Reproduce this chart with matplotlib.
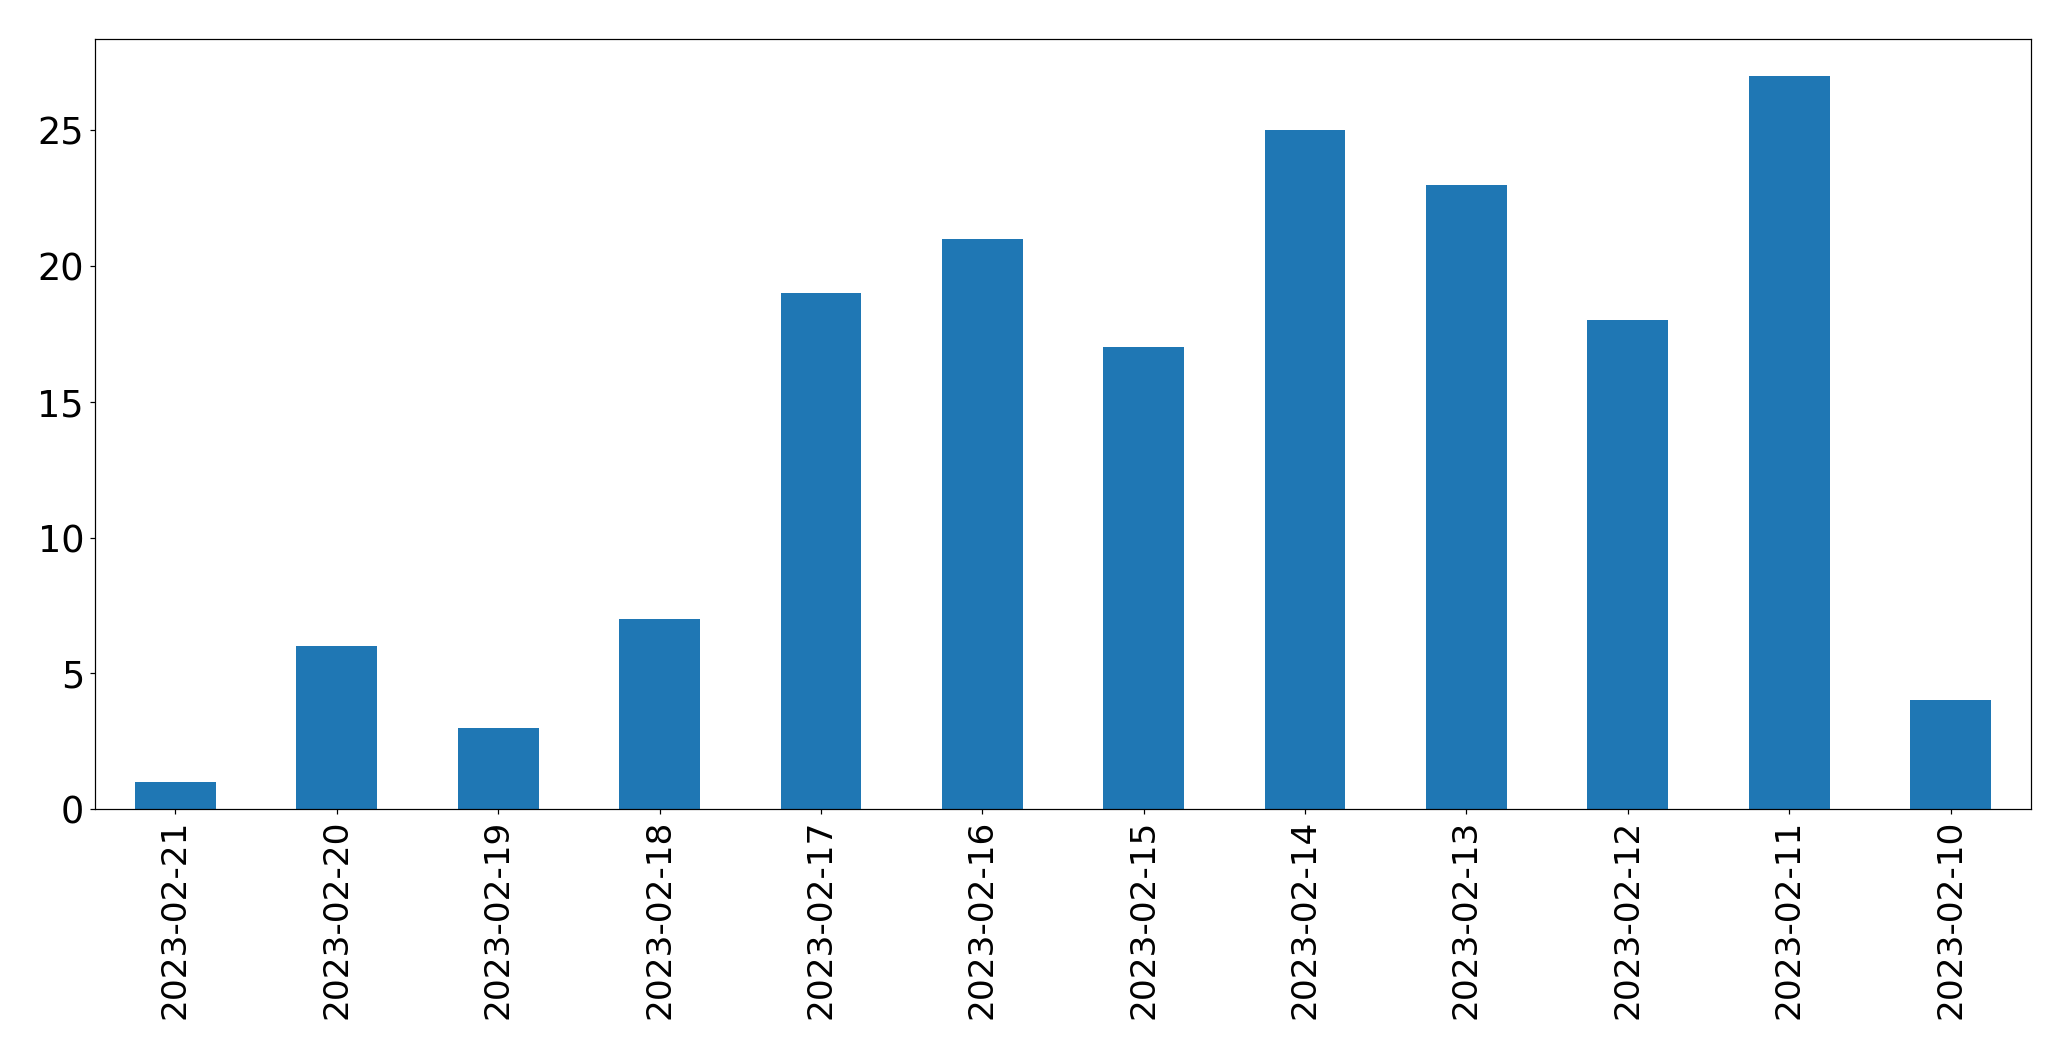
import matplotlib
matplotlib.use("Agg")
import matplotlib.pyplot as plt

dates = ["2023-02-21", "2023-02-20", "2023-02-19", "2023-02-18", "2023-02-17",
         "2023-02-16", "2023-02-15", "2023-02-14", "2023-02-13", "2023-02-12",
         "2023-02-11", "2023-02-10"]
counts = [1, 6, 3, 7, 19, 21, 17, 25, 23, 18, 27, 4]

DPI = 110
fig = plt.figure(figsize=(2071 / DPI, 1061 / DPI), dpi=DPI)
ax = fig.add_axes([94.7 / 2071, 1 - 809 / 1061, (2031.3 - 94.7) / 2071, (809 - 39.3) / 1061])

x = list(range(len(dates)))
ax.bar(x, counts, width=0.5, color="#1f77b4")
ax.set_xlim(-0.5, len(dates) - 0.5)
ax.set_ylim(0, max(counts) * 1.05)
ax.set_xticks(x)
ax.set_xticklabels(dates, rotation=90)
ax.tick_params(axis="y", labelsize=24)
ax.tick_params(axis="x", labelsize=22.5)

fig.savefig("out.png", dpi=DPI)
